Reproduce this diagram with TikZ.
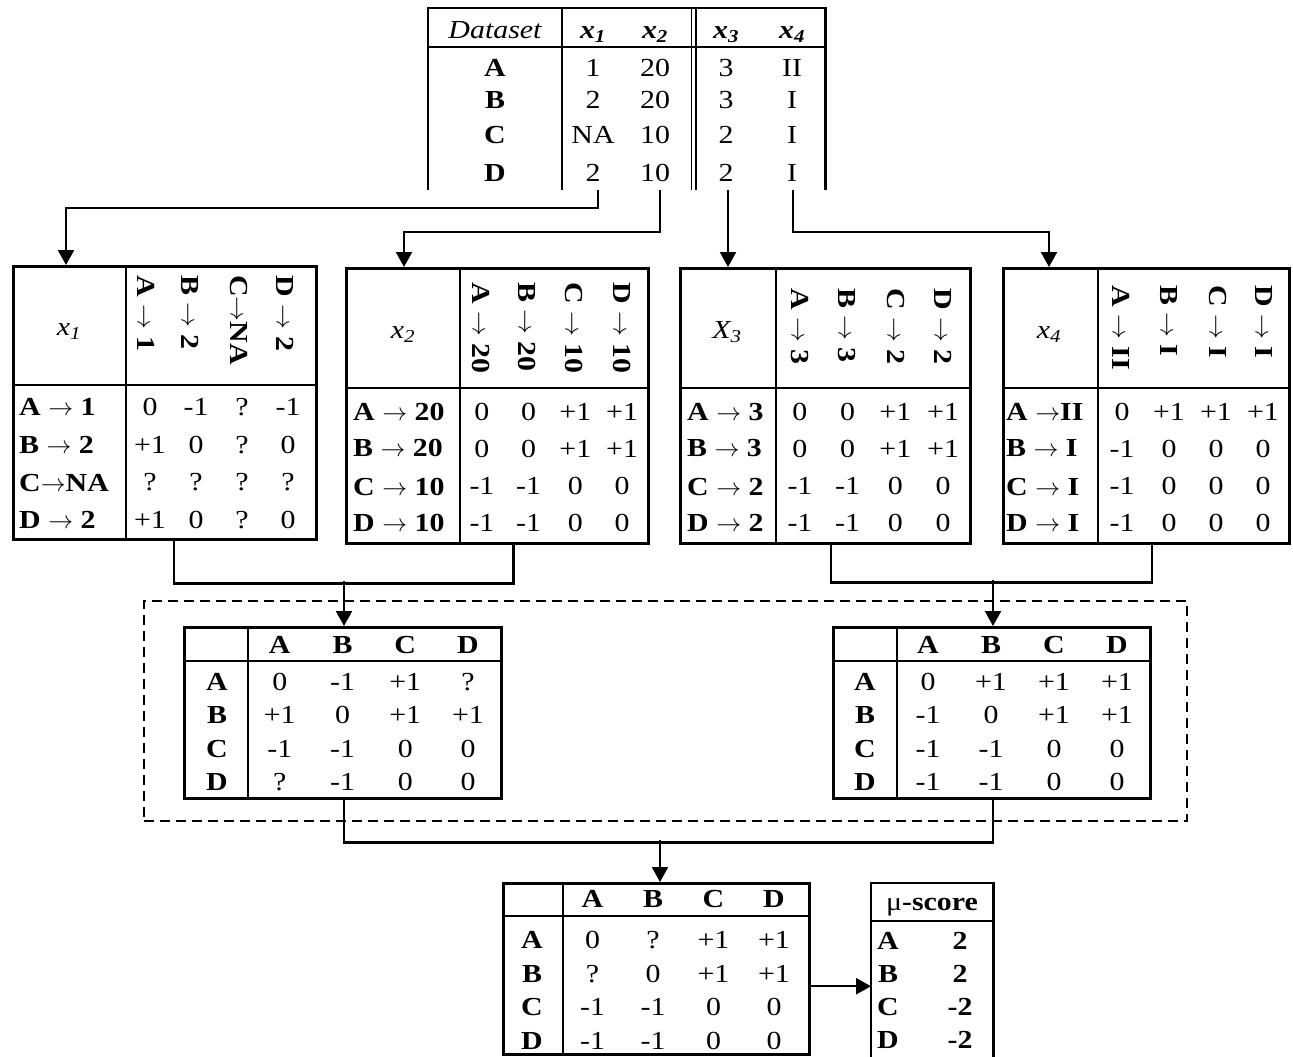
\documentclass[tikz,border=0pt]{standalone}
\usepackage{fontspec}
\setmainfont[FakeStretch=1.15]{Liberation Serif}
\usetikzlibrary{arrows.meta,positioning,matrix}

\newcommand{\ra}[2]{\textbf{#1}~$\rightarrow$~\textbf{#2}}

\begin{document}
\fontsize{26}{31}\selectfont
\begin{tikzpicture}[x=1pt,y=-1pt,
  tline/.style={line width=2.5pt},
  tframe/.style={draw,line width=2.5pt,inner sep=0pt,anchor=north west},
  tcell/.style={inner sep=0pt,text height=17pt,text depth=0pt},
  hd/.style={tcell,font=\bfseries},
  vlab/.style={tcell,rotate=-90,anchor=west},
  rlab/.style={tcell,anchor=west},
  grid4/.style 2 args={matrix of nodes,inner sep=0pt,column sep=0pt,row sep=0pt,
    nodes={tcell,anchor=center,minimum width=#1,minimum height=#2}},
  arr/.style={-{Triangle[length=15pt,width=16pt]},line width=2.3pt}]
\useasboundingbox (0,0) rectangle (1293,1057);

% dataset
\node[inner sep=0pt,minimum width=397pt,minimum height=182pt,anchor=north west] (ds) at (428,8) {};
\draw[tline] (ds.south west) -- (ds.north west) -- (ds.north east) -- (ds.south east);
\draw[tline] (562,8) -- (562,190) (428,47) -- (825,47);
\draw[line width=1.8pt] (691.5,8) -- (691.5,190) (696,8) -- (696,190);
\node[tcell,font=\itshape] (ds-h) at (495,30) {Dataset};
\foreach \j/\x in {1/593,2/655,3/726,4/792}
  \node[tcell,font=\bfseries\itshape] (ds-h\j) at (\x,30) {x\textsubscript{\j}};
\foreach \n/\a/\b/\c/\d/\y in {A/1/20/3/II/68,B/2/20/3/I/100,C/NA/10/2/I/135,D/2/10/2/I/173}{
  \node[hd] (ds-\n) at (495,\y) {\n};
  \node[tcell] (ds-\n1) at (593,\y) {\a};
  \node[tcell] (ds-\n2) at (655,\y) {\b};
  \node[tcell] (ds-\n3) at (726,\y) {\c};
  \node[tcell] (ds-\n4) at (792,\y) {\d};
}
\coordinate (s1) at (598,190);
\coordinate (s2) at (660,190);
\coordinate (s3) at (728,190);
\coordinate (s4) at (793,190);

% x1
\node[tframe,minimum width=303pt,minimum height=273pt] (tx1) at (12,265) {};
\draw[tline] (126,265) -- (126,538) (12,385) -- (315,385);
\node[tcell,font=\itshape] (tx1-h) at (69,327) {x\textsubscript{1}};
\foreach \s/\x [count=\j] in {{\ra{A}{1}}/146,{\ra{B}{2}}/190,{\textbf{C}$\rightarrow$\textbf{NA}}/239,{\ra{D}{2}}/285}
  \node[vlab] (tx1-v\j) at (\x,275) {\s};
\foreach \s/\y [count=\i] in {{\ra{A}{1}}/407,{\ra{B}{2}}/445,{\textbf{C}$\rightarrow$\textbf{NA}}/483,{\ra{D}{2}}/520}
  \node[rlab] (tx1-r\i) at (19,\y) {\s};
\matrix[grid4={46pt}{37.7pt}] (tx1-m) at (219,463.5) {
  0 & -1 & ? & -1 \\
  +1 & 0 & ? & 0 \\
  ? & ? & ? & ? \\
  +1 & 0 & ? & 0 \\
};

% x2
\node[tframe,minimum width=302pt,minimum height=275pt] (tx2) at (345,267) {};
\draw[tline] (460,267) -- (460,542) (345,388) -- (647,388);
\node[tcell,font=\itshape] (tx2-h) at (403,330) {x\textsubscript{2}};
\foreach \s/\x [count=\j] in {{\ra{A}{20}}/481,{\ra{B}{20}}/527,{\ra{C}{10}}/574,{\ra{D}{10}}/622}
  \node[vlab] (tx2-v\j) at (\x,282) {\s};
\foreach \s/\y [count=\i] in {{\ra{A}{20}}/412,{\ra{B}{20}}/448,{\ra{C}{10}}/487,{\ra{D}{10}}/523}
  \node[rlab] (tx2-r\i) at (353,\y) {\s};
\matrix[grid4={46.7pt}{37pt}] (tx2-m) at (552,467.5) {
  0 & 0 & +1 & +1 \\
  0 & 0 & +1 & +1 \\
  -1 & -1 & 0 & 0 \\
  -1 & -1 & 0 & 0 \\
};

% X3
\node[tframe,minimum width=290pt,minimum height=275pt] (tx3) at (679,267) {};
\draw[tline] (776,267) -- (776,542) (679,388) -- (969,388);
\node[tcell,font=\itshape] (tx3-h) at (727,330) {X\textsubscript{3}};
\foreach \s/\x [count=\j] in {{\ra{A}{3}}/800,{\ra{B}{3}}/847,{\ra{C}{2}}/896,{\ra{D}{2}}/943}
  \node[vlab] (tx3-v\j) at (\x,288) {\s};
\foreach \s/\y [count=\i] in {{\ra{A}{3}}/412,{\ra{B}{3}}/448,{\ra{C}{2}}/487,{\ra{D}{2}}/523}
  \node[rlab] (tx3-r\i) at (687,\y) {\s};
\matrix[grid4={47.7pt}{37pt}] (tx3-m) at (871.5,467.5) {
  0 & 0 & +1 & +1 \\
  0 & 0 & +1 & +1 \\
  -1 & -1 & 0 & 0 \\
  -1 & -1 & 0 & 0 \\
};

% x4
\node[tframe,minimum width=286pt,minimum height=275pt] (tx4) at (1002,267) {};
\draw[tline] (1098,267) -- (1098,542) (1002,388) -- (1288,388);
\node[tcell,font=\itshape] (tx4-h) at (1049,330) {x\textsubscript{4}};
\foreach \s/\x [count=\j] in {{\ra{A}{II}}/1121,{\ra{B}{I}}/1169,{\ra{C}{I}}/1218,{\ra{D}{I}}/1264}
  \node[vlab] (tx4-v\j) at (\x,285) {\s};
\foreach \s/\y [count=\i] in {{\textbf{A}~$\rightarrow$\textbf{II}}/412,{\ra{B}{I}}/448,{\ra{C}{I}}/487,{\ra{D}{I}}/523}
  \node[rlab] (tx4-r\i) at (1006,\y) {\s};
\matrix[grid4={47pt}{37pt}] (tx4-m) at (1192.5,467.5) {
  0 & +1 & +1 & +1 \\
  -1 & 0 & 0 & 0 \\
  -1 & 0 & 0 & 0 \\
  -1 & 0 & 0 & 0 \\
};

% combined
\node[tframe,dash pattern=on 10pt off 6pt,line width=2.3pt,minimum width=1043pt,minimum height=220pt] (grp) at (143,600) {};
\node[tframe,minimum width=317pt,minimum height=171pt] (tl) at (183,626) {};
\draw[tline] (248,626) -- (248,797) (183,661) -- (500,661);
\matrix[grid4={62.75pt}{33.3pt},row 1/.style={nodes=hd},column 1/.style={nodes=hd}] (tl-m) at (342.5,713.5) {
   & A & B & C & D \\[3.7pt]
  A & 0 & -1 & +1 & ? \\
  B & +1 & 0 & +1 & +1 \\
  C & -1 & -1 & 0 & 0 \\
  D & ? & -1 & 0 & 0 \\
};
\node[tframe,minimum width=317pt,minimum height=171pt] (tr) at (832,626) {};
\draw[tline] (897,626) -- (897,797) (832,661) -- (1149,661);
\matrix[grid4={63pt}{33.3pt},row 1/.style={nodes=hd},column 1/.style={nodes=hd}] (tr-m) at (991,713.5) {
   & A & B & C & D \\[3.7pt]
  A & 0 & +1 & +1 & +1 \\
  B & -1 & 0 & +1 & +1 \\
  C & -1 & -1 & 0 & 0 \\
  D & -1 & -1 & 0 & 0 \\
};

% final
\node[tframe,minimum width=306pt,minimum height=171pt] (tf) at (502,882) {};
\draw[tline] (563,882) -- (563,1053) (502,916) -- (808,916);
\matrix[grid4={60.5pt}{33.5pt},row 1/.style={nodes=hd},column 1/.style={nodes=hd}] (tf-m) at (653,969.75) {
   & A & B & C & D \\[7.5pt]
  A & 0 & ? & +1 & +1 \\
  B & ? & 0 & +1 & +1 \\
  C & -1 & -1 & 0 & 0 \\
  D & -1 & -1 & 0 & 0 \\
};
\node[inner sep=0pt,minimum width=122pt,minimum height=174pt,anchor=north west] (mu) at (871,883) {};
\draw[tline] (mu.south west) -- (mu.north west) -- (mu.north east) -- (mu.south east);
\draw[tline] (871,921) -- (993,921);
\node[tcell] (mu-h) at (932,902) {μ\textbf{-score}};
\matrix[grid4={72pt}{33.3pt},nodes={font=\bfseries}] (mu-m) at (924,990.5) {
  A & 2 \\
  B & 2 \\
  C & -2 \\
  D & -2 \\
};

% connectors
\draw[arr] (s1) -- ++(0,18) -| ([xshift=54pt]tx1.north west);
\draw[arr] (s2) -- ++(0,42) -| ([xshift=59pt]tx2.north west);
\draw[arr] (s3) -- (s3 |- tx3.north);
\draw[arr] (s4) -- ++(0,42) -| ([xshift=47pt]tx4.north west);
\draw[tline] ([xshift=162pt]tx1.south west) -- ++(0,43) -| ([xshift=-136pt]tx2.south east);
\draw[tline] ([xshift=152pt]tx3.south west) -- ++(0,38) -| ([xshift=150pt]tx4.south west);
\coordinate (j1) at (344,581);
\coordinate (j2) at (993,580);
\draw[arr] (j1) -- (j1 |- tl.north);
\draw[arr] (j2) -- (j2 |- tr.north);
\draw[tline] (j1 |- tl.south) -- ++(0,43) -| (j2 |- tr.south);
\coordinate (j3) at (660,840);
\draw[arr] (j3) -- (j3 |- tf.north);
\draw[arr] ([yshift=-17.5pt]tf.east) -- ([yshift=-17.5pt]tf.east -| mu.west);
\end{tikzpicture}
\end{document}
